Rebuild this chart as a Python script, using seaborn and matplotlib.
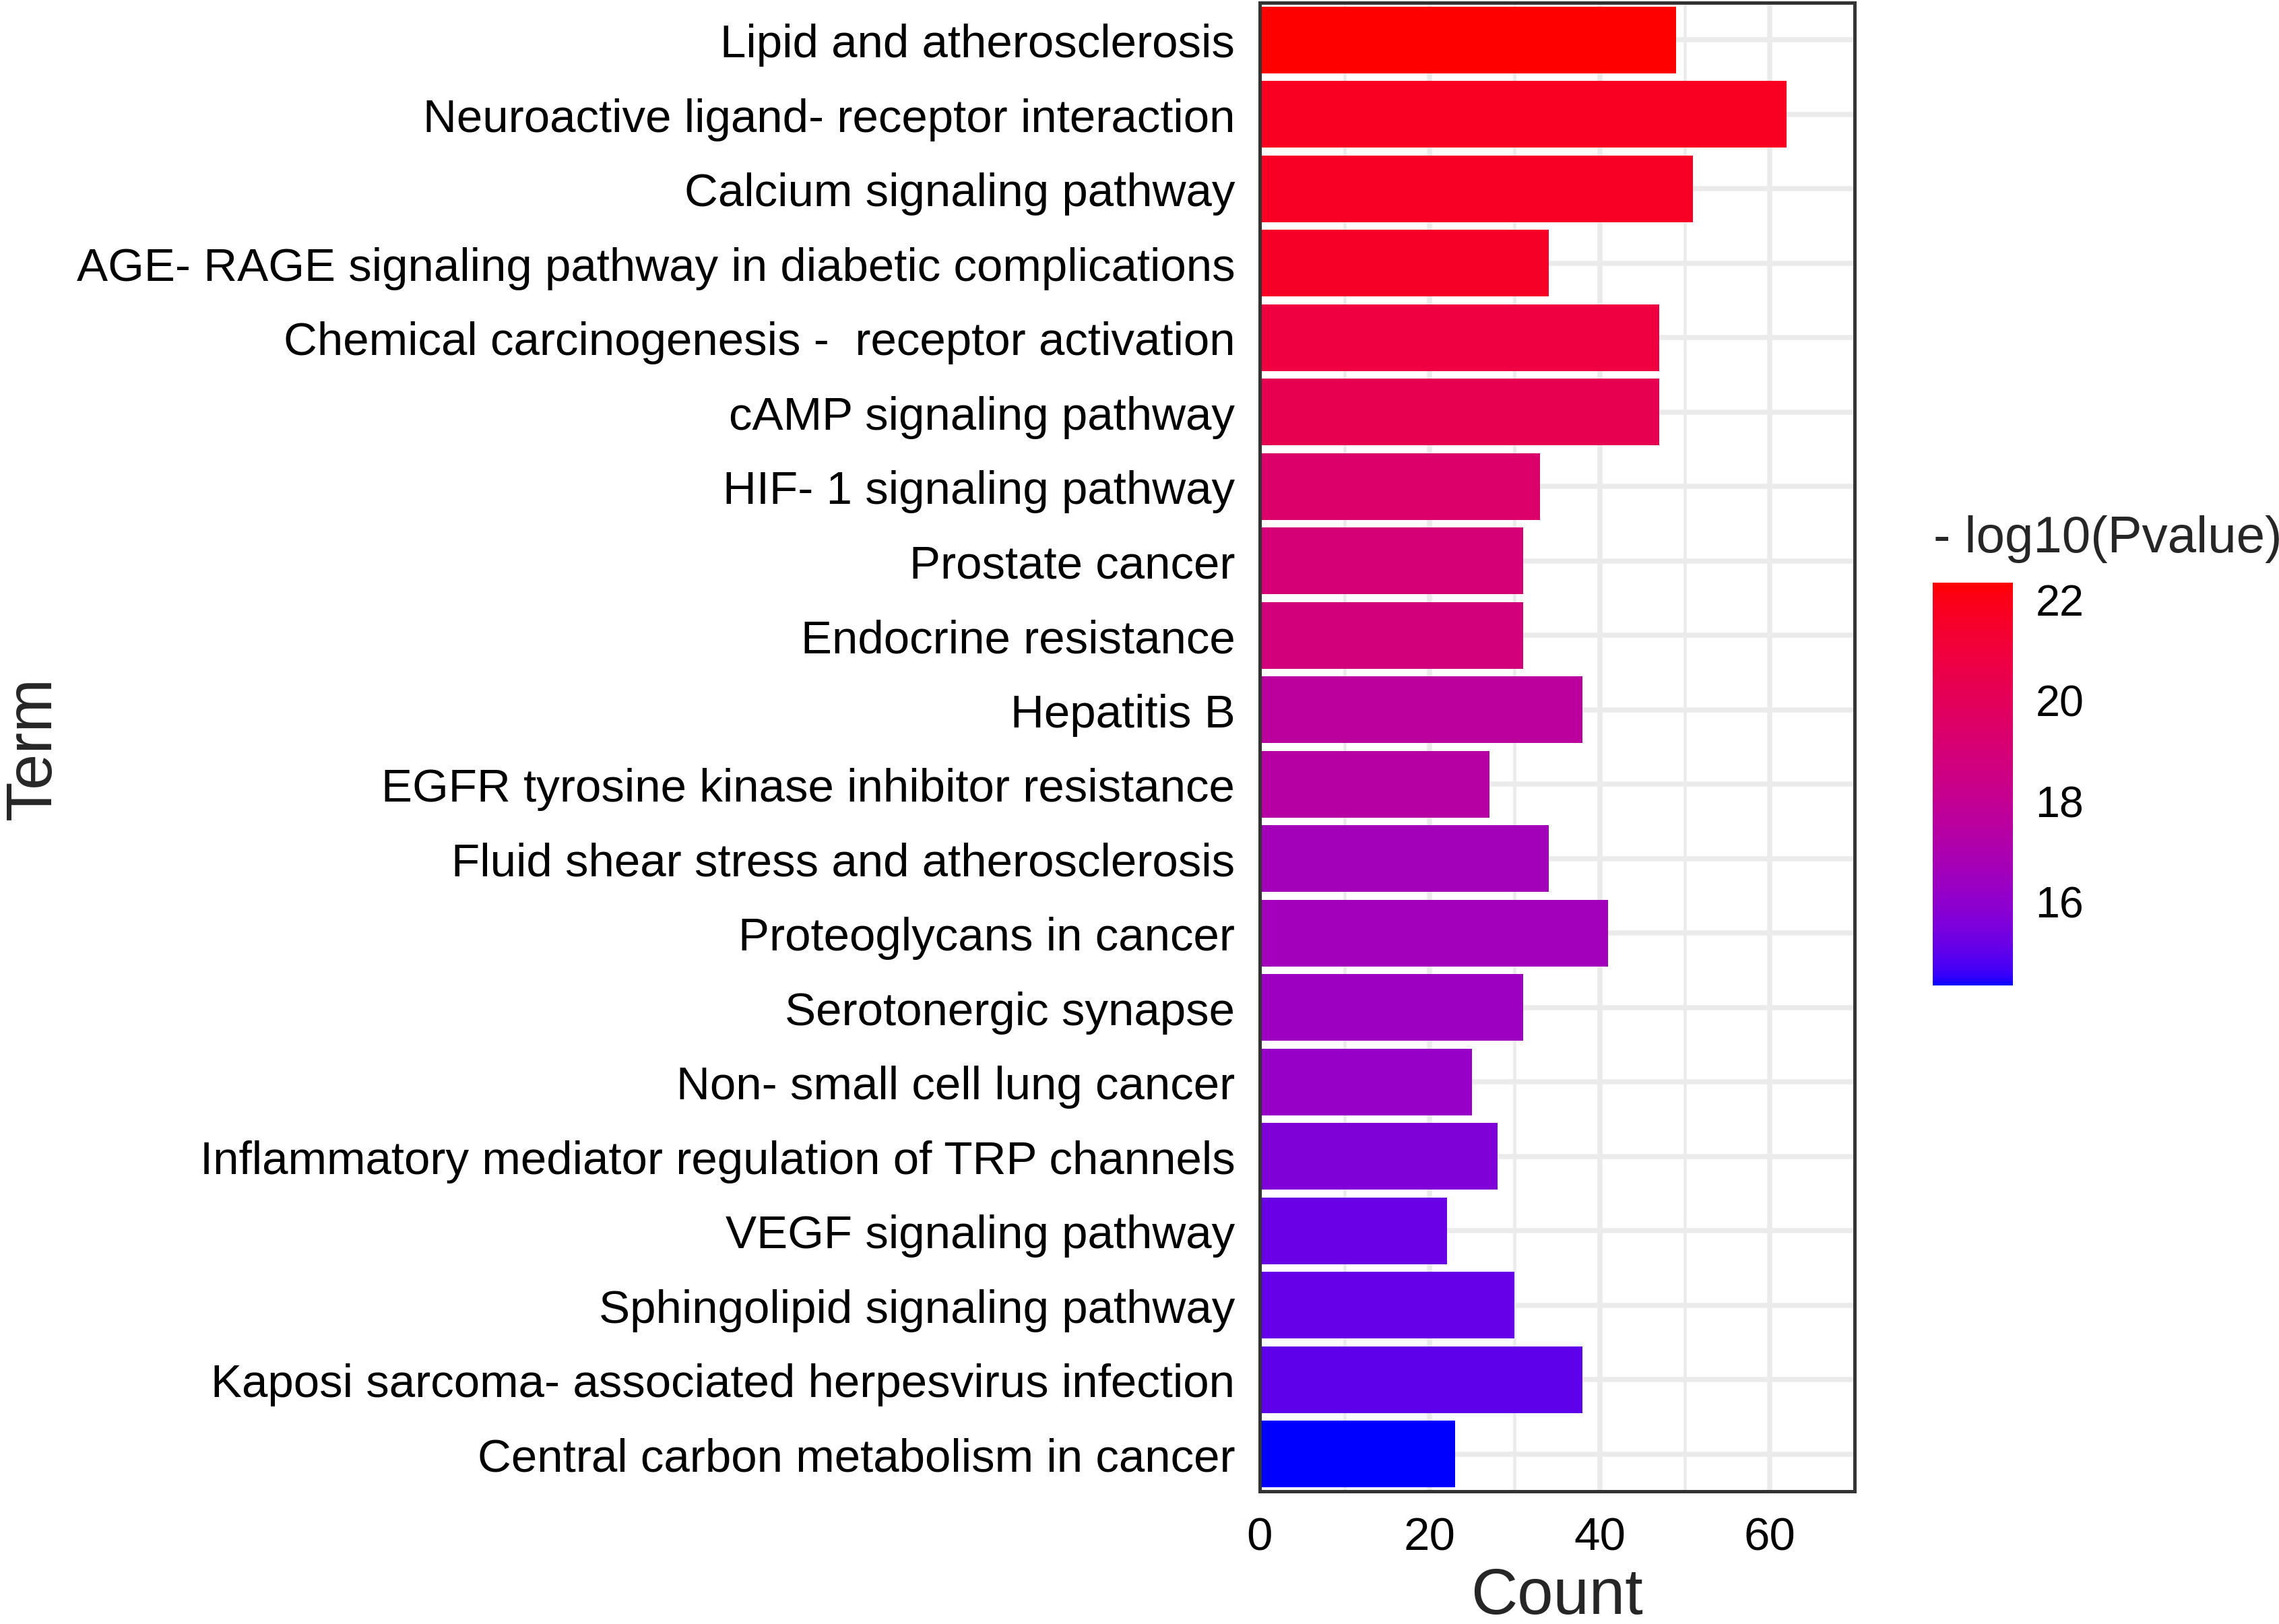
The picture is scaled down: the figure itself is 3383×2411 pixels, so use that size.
import numpy as np
import pandas as pd
import matplotlib
matplotlib.use("Agg")
import matplotlib.pyplot as plt
from matplotlib.colors import ListedColormap, Normalize
from matplotlib.cm import ScalarMappable
from matplotlib.ticker import MultipleLocator
import seaborn as sns

# ---- data ----
terms = [
    "Lipid and atherosclerosis",
    "Neuroactive ligand- receptor interaction",
    "Calcium signaling pathway",
    "AGE- RAGE signaling pathway in diabetic complications",
    "Chemical carcinogenesis -  receptor activation",
    "cAMP signaling pathway",
    "HIF- 1 signaling pathway",
    "Prostate cancer",
    "Endocrine resistance",
    "Hepatitis B",
    "EGFR tyrosine kinase inhibitor resistance",
    "Fluid shear stress and atherosclerosis",
    "Proteoglycans in cancer",
    "Serotonergic synapse",
    "Non- small cell lung cancer",
    "Inflammatory mediator regulation of TRP channels",
    "VEGF signaling pathway",
    "Sphingolipid signaling pathway",
    "Kaposi sarcoma- associated herpesvirus infection",
    "Central carbon metabolism in cancer",
]
counts = [49, 62, 51, 34, 47, 47, 33, 31, 31, 38, 27, 34, 41, 31, 25, 28, 22, 30, 38, 23]
neglog10p = [22.33, 21.72, 21.63, 21.57, 20.85, 20.33, 19.40, 18.99, 18.85, 17.60,
             17.40, 16.62, 16.60, 16.45, 16.23, 15.64, 15.15, 15.10, 15.00, 14.33]
cbar_ticks = [16, 18, 20, 22]

# ---- blue -> red gradient interpolated in Lab (ggplot style) ----
def lab_to_rgb(L, a, b):
    fy = (L + 16) / 116
    fx = fy + a / 500
    fz = fy - b / 200
    def finv(t):
        return np.where(t > 6 / 29, t ** 3, 3 * (6 / 29) ** 2 * (t - 4 / 29))
    X = 0.95047 * finv(fx)
    Y = finv(fy)
    Z = 1.08883 * finv(fz)
    r = 3.2406 * X - 1.5372 * Y - 0.4986 * Z
    g = -0.9689 * X + 1.8758 * Y + 0.0415 * Z
    bb = 0.0557 * X - 0.2040 * Y + 1.0570 * Z
    rgb = np.clip(np.stack([r, g, bb], axis=-1), 0, 1)
    return np.where(rgb <= 0.0031308, 12.92 * rgb, 1.055 * rgb ** (1 / 2.4) - 0.055)

t = np.linspace(0, 1, 256)
lab_blue = np.array([32.30, 79.19, -107.86])
lab_red = np.array([53.24, 80.09, 67.20])
lab = lab_blue[None, :] * (1 - t[:, None]) + lab_red[None, :] * t[:, None]
cmap = ListedColormap(lab_to_rgb(lab[:, 0], lab[:, 1], lab[:, 2]))
norm = Normalize(vmin=min(neglog10p), vmax=max(neglog10p))
bar_colors = [cmap(norm(v)) for v in neglog10p]

df = pd.DataFrame({"Term": terms, "Count": counts, "P": neglog10p})

# ---- style ----
sns.set_style("white")
plt.rcParams["font.family"] = ["Liberation Sans", "DejaVu Sans"]

W, H = 3383, 2412
fig = plt.figure(figsize=(W / 300, H / 300), dpi=300)
ax = fig.add_axes([1870 / W, 1 - 2215 / H, (2753 - 1870) / W, (2215 - 5) / H])

sns.barplot(data=df, x="Count", y="Term", hue="Term", order=terms,
            palette=bar_colors, width=0.9, legend=False, saturation=1,
            linewidth=0, ax=ax)

ax.set_xlim(0, 70)
ax.set_ylim(len(terms) - 0.5, -0.5)
ax.xaxis.set_major_locator(MultipleLocator(20))
ax.xaxis.set_minor_locator(MultipleLocator(10))
ax.set_axisbelow(True)
ax.grid(which="major", axis="both", color="#EBEBEB", lw=1.8)
ax.grid(which="minor", axis="x", color="#EBEBEB", lw=1.1)
ax.tick_params(which="major", length=4.8, width=1.4, color="#333333",
               labelsize=16.6, labelcolor="black", pad=4)
ax.tick_params(which="minor", length=0)
for s in ax.spines.values():
    s.set_visible(True)
    s.set_color("#333333")
    s.set_linewidth(1.2)

ax.set_xlabel("Count", fontsize=23, labelpad=2.5)
ax.set_ylabel("Term", fontsize=23, labelpad=4.5)

# ---- colourbar legend ----
cax = fig.add_axes([2869 / W, 1 - 1464 / H, 119 / W, 598 / H])
sm = ScalarMappable(norm=norm, cmap=cmap)
cbar = fig.colorbar(sm, cax=cax, ticks=cbar_ticks)
cbar.outline.set_visible(False)
cax.tick_params(left=True, right=True, direction="in", length=5.8, width=0.7,
                color="white", labelsize=15.5, labelcolor="black", pad=8)
fig.text(2870 / W, 1 - 800 / H, "- log10(Pvalue)", fontsize=18.3,
         ha="left", va="center")

fig.savefig("out.png", dpi=300)
